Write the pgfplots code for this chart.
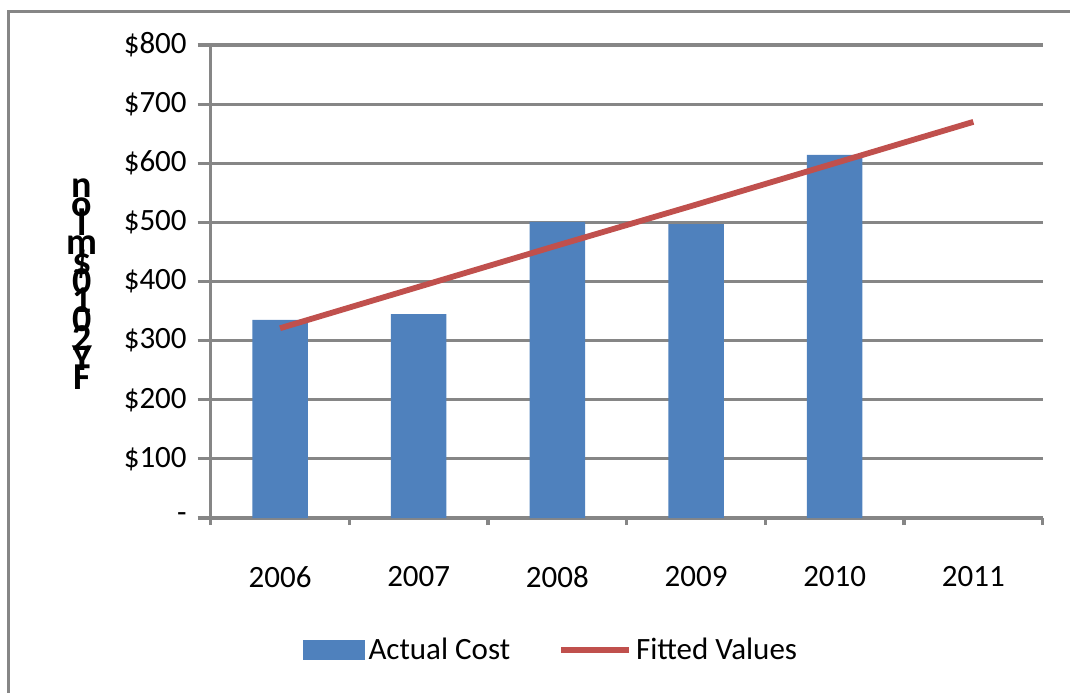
\documentclass[border=0pt]{standalone}
\usepackage{pgfplots}
\pgfplotsset{compat=1.18}
\usepackage{fontspec}
\setmainfont{Carlito}
\definecolor{barblue}{HTML}{4F81BD}
\definecolor{linered}{HTML}{C0504D}
\definecolor{gridgray}{HTML}{868686}
\newcommand{\tightlines}{\lineskiplimit=-30pt\relax\lineskip=0pt\relax}
\begin{document}
\begin{tikzpicture}
\begin{axis}[
  name=ax,
  scale only axis,
  width=416pt, height=236.5pt,
  xmin=-0.5, xmax=5.5,
  ymin=0, ymax=800,
  axis lines*=left,
  axis line style={gridgray, line width=1.6pt, -},
  xtick={0,1,2,3,4,5},
  xticklabels={2006,2007,2008,2009,2010,2011},
  minor xtick={-0.5,0.5,1.5,2.5,3.5,4.5,5.5},
  ytick={0,100,200,300,400,500,600,700,800},
  yticklabels={-,\$100,\$200,\$300,\$400,\$500,\$600,\$700,\$800},
  tick align=outside,
  major x tick style={draw=none},
  minor x tick style={gridgray, line width=1.6pt},
  minor tick length=3.5pt,
  major y tick style={gridgray, line width=1.6pt},
  major tick length=6.5pt,
  ymajorgrids,
  grid style={gridgray, line width=1.6pt},
  tick label style={font=\fontsize{15.5}{18}\selectfont},
  xticklabel style={yshift=-14pt},
  yticklabel style={xshift=-2pt},
  /pgf/number format/assume math mode=true,
  clip=false,
  legend style={at={(0.410,-0.279)}, anchor=center, draw=none, fill=none,
    legend columns=2, font=\fontsize{15.5}{18}\selectfont,
    /tikz/every even column/.append style={column sep=22pt}},
  legend cell align=left,
]
\addplot[ybar, bar width=0.40, fill=barblue, draw=none, bar shift=0pt,
  area legend,
  legend image code/.code={\fill[barblue] (0pt,-5pt) rectangle (31pt,5pt);}]
  coordinates {(0,335) (1,345) (2,501) (3,497) (4,614)};
\addlegendentry{Actual Cost}
\addplot[linered, line width=2.9pt, mark=none,
  legend image code/.code={\draw[linered, line width=2.9pt] (0pt,0pt) -- (34pt,0pt);}]
  coordinates {(0,321) (1,391) (2,461) (3,530) (4,600) (5,670)};
\addlegendentry{Fitted Values}
\end{axis}
\node[font=\fontsize{19}{9.6}\selectfont\bfseries\tightlines, align=center, inner sep=0pt]
  at ([xshift=-64.4pt, yshift=117pt]ax.south west)
  {n\\o\\l\\m\\\$\\0\\1\\0\\2\\Y\\F};
\draw[gridgray, line width=1.5pt] ([xshift=-100.85pt, yshift=-100pt]ax.south west) -- ([xshift=-100.85pt, yshift=253pt]ax.south west) -- ([xshift=450pt, yshift=253pt]ax.south west);
\pgfresetboundingbox
\path[use as bounding box] ([xshift=-105.35pt, yshift=-87pt]ax.south west) rectangle ([xshift=429.65pt, yshift=259pt]ax.south west);
\end{tikzpicture}
\end{document}
